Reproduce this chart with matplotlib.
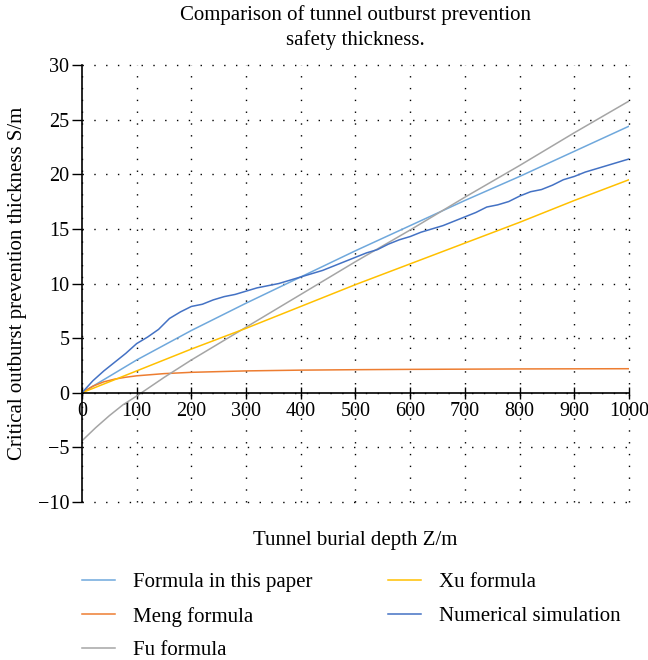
import numpy as np
import matplotlib
matplotlib.use("Agg")
import matplotlib.pyplot as plt

plt.rcParams['font.family'] = ['Liberation Serif', 'DejaVu Serif']

# depth values (m)
depth = [0, 100, 200, 300, 400, 500, 600, 700, 800, 900, 1000]

# formula curves
paper_formula = [0, 3.0, 5.7, 8.2, 10.6, 13.0, 15.3, 17.6, 19.8, 22.1, 24.4]
xu_formula = [0, 2.0, 4.0, 5.9, 7.9, 9.9, 11.8, 13.7, 15.6, 17.6, 19.5]

meng_depth = [0, 20, 40, 60, 80, 100, 150, 200, 300, 400, 500, 600, 700, 800, 900, 1000]
meng_formula = [0, 0.6, 1.0, 1.25, 1.42, 1.55, 1.75, 1.87, 2.0, 2.07, 2.11, 2.14, 2.16, 2.18, 2.19, 2.2]

fu_depth = [0, 25, 50, 75, 100, 150, 200, 300, 400, 500, 600, 700, 800, 900, 1000]
fu_formula = [-4.4, -3.2, -2.1, -1.1, -0.3, 1.4, 3.0, 6.0, 9.0, 12.0, 14.9, 17.9, 20.8, 23.8, 26.7]

sim_depth = list(range(0, 1001, 20))
sim_values = [0, 1.1, 2.0, 2.8, 3.6, 4.5, 5.1, 5.8, 6.8, 7.4,
              7.9, 8.1, 8.5, 8.8, 9.0, 9.3, 9.6, 9.8, 10.0, 10.3,
              10.6, 10.9, 11.2, 11.6, 12.0, 12.4, 12.8, 13.1, 13.6, 14.0,
              14.3, 14.7, 15.0, 15.3, 15.7, 16.1, 16.5, 17.0, 17.2, 17.5,
              18.0, 18.4, 18.6, 19.0, 19.5, 19.8, 20.2, 20.5, 20.8, 21.1,
              21.4]

fig = plt.figure(figsize=(6.48, 6.6), dpi=100)
ax = fig.add_axes([0.1265, 0.2394, 0.8442, 0.6621])

ax.plot(depth, paper_formula, color='#6FA8DC', lw=1.1, label='Formula in this paper')
ax.plot(meng_depth, meng_formula, color='#ED7D31', lw=1.1, label='Meng formula')
ax.plot(fu_depth, fu_formula, color='#A5A5A5', lw=1.1, label='Fu formula')
ax.plot(depth, xu_formula, color='#FFC000', lw=1.1, label='Xu formula')
ax.plot(sim_depth, sim_values, color='#4472C4', lw=1.1, label='Numerical simulation')

ax.set_xlim(0, 1000)
ax.set_ylim(-10, 30)
ax.set_xticks(range(0, 1001, 100))
ax.set_yticks(range(-10, 31, 5))

ax.spines['top'].set_visible(False)
ax.spines['right'].set_visible(False)
ax.spines['bottom'].set_position(('data', 0))
ax.spines['left'].set_linewidth(1.2)
ax.spines['bottom'].set_linewidth(1.2)

ax.tick_params(axis='x', direction='inout', length=8, width=1.0, labelsize=14.5, pad=3)
ax.tick_params(axis='y', direction='out', length=7, width=1.0, labelsize=14.5, pad=2)

ax.grid(True, color='black', linestyle=(0, (1, 7.5)), linewidth=1.0)
for gl in ax.get_xgridlines() + ax.get_ygridlines():
    gl.set_clip_on(False)

fig.text(0.548, 0.958, 'Comparison of tunnel outburst prevention\nsafety thickness.',
         ha='center', va='center', fontsize=15, linespacing=1.3)
ax.set_ylabel('Critical outburst prevention thickness S/m', fontsize=15, va='center')
ax.yaxis.set_label_coords(-0.117, 0.5)
ax.set_xlabel('Tunnel burial depth Z/m', fontsize=15, va='center')
ax.xaxis.set_label_coords(0.5, -0.087)

fig.legend(loc='upper left', bbox_to_anchor=(0.1265, 0.132), ncol=2, frameon=False,
           fontsize=15, handlelength=1.6, handletextpad=0.85, columnspacing=3.6,
           labelspacing=0.68, borderpad=0, borderaxespad=0)

fig.savefig('out.png', dpi=100)
